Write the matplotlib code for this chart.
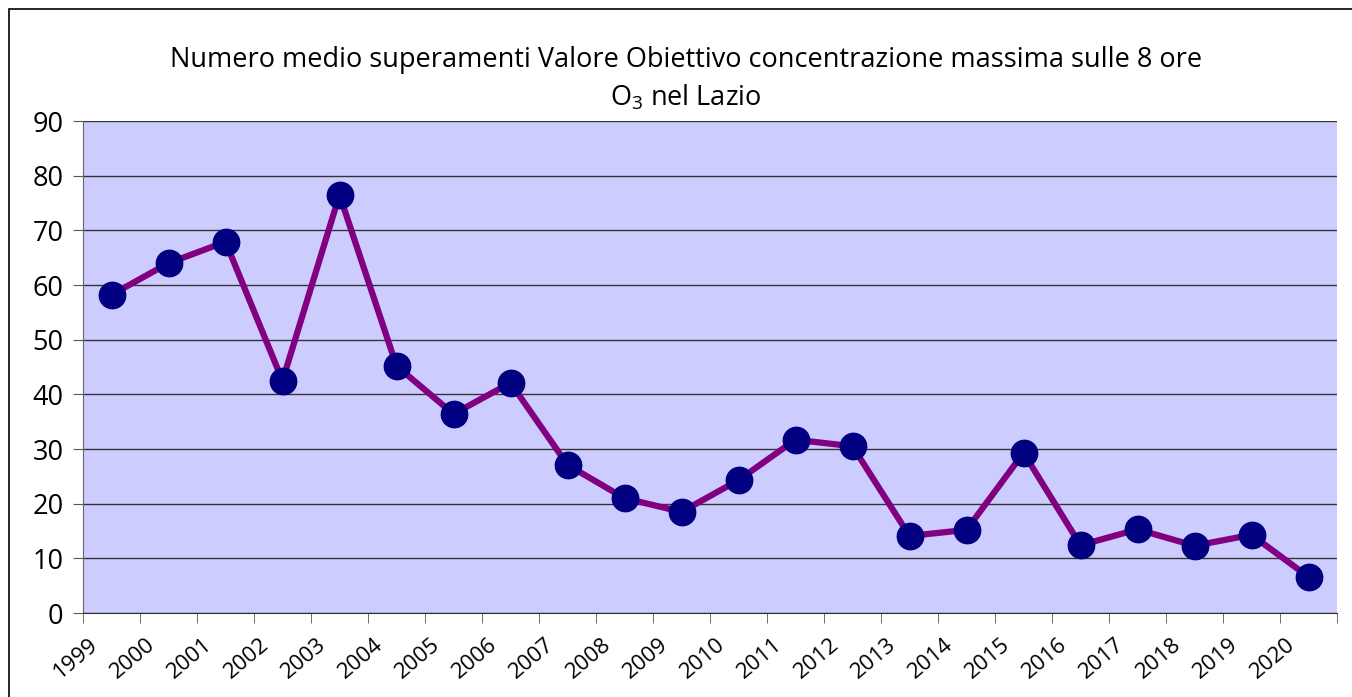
#!/usr/bin/env python3
"""Numero medio superamenti Valore Obiettivo O3 - Lazio"""

import numpy as np
import matplotlib.pyplot as plt
from matplotlib.patches import Rectangle

plt.rcParams['font.family'] = ['Open Sans', 'DejaVu Sans']
plt.rcParams['mathtext.fontset'] = 'custom'
plt.rcParams['mathtext.rm'] = 'Open Sans'

# Data
years = ['1999', '2000', '2001', '2002', '2003', '2004', '2005', '2006',
         '2007', '2008', '2009', '2010', '2011', '2012', '2013', '2014',
         '2015', '2016', '2017', '2018', '2019', '2020']
superamenti = [58.2, 64.0, 67.9, 42.5, 76.5, 45.2, 36.4, 42.1,
               27.1, 21.0, 18.5, 24.3, 31.7, 30.5, 14.1, 15.2,
               29.3, 12.4, 15.3, 12.3, 14.3, 6.6]

W, H = 1352, 697
fig = plt.figure(figsize=(W / 100, H / 100), dpi=100)
ax = fig.add_axes([83 / W, (H - 613) / H, (1337 - 83) / W, (613 - 121) / H])

# outer chart border
fig.patches.append(Rectangle((9 / W, -0.1), 1.2, (H - 9) / H + 0.1,
                             transform=fig.transFigure, fill=False,
                             edgecolor='black', linewidth=1.2))

x = np.arange(len(years))
ax.set_facecolor('#CCCCFF')
ax.plot(x, superamenti, color='#800080', linewidth=4.5, zorder=3)
ax.plot(x, superamenti, 'o', color='#000080', markersize=19, zorder=4)

ax.set_xlim(-0.5, len(years) - 0.5)
ax.set_ylim(0, 90)
ax.set_yticks(range(0, 91, 10))
ax.yaxis.grid(True, color='#333333', linewidth=1.0)
ax.set_axisbelow(True)

# labels ending under the category centres, tick marks at category boundaries
ax.set_xticks(x - 0.4)
ax.set_xticklabels(years, rotation=40, ha='right', va='top', rotation_mode='anchor')
ax.set_xticks(np.arange(-0.5, len(years), 1.0), minor=True)

for s in ['top', 'right']:
    ax.spines[s].set_visible(False)
ax.spines['left'].set_color('#666666')
ax.spines['bottom'].set_color('#333333')
ax.tick_params(axis='y', labelsize=19.5, length=7, color='#555555', pad=7)
ax.tick_params(axis='x', which='major', labelsize=16, length=0, pad=15)
ax.tick_params(axis='x', which='minor', length=7, color='#555555')

fig.text(686 / W, 1 - 60 / H,
         'Numero medio superamenti Valore Obiettivo concentrazione massima sulle 8 ore',
         ha='center', va='center', fontsize=19.5)
fig.text(686 / W, 1 - 98 / H, r'O$_\mathrm{3}$ nel Lazio',
         ha='center', va='center', fontsize=19.5)

plt.savefig('out.png', dpi=100)
plt.close()
